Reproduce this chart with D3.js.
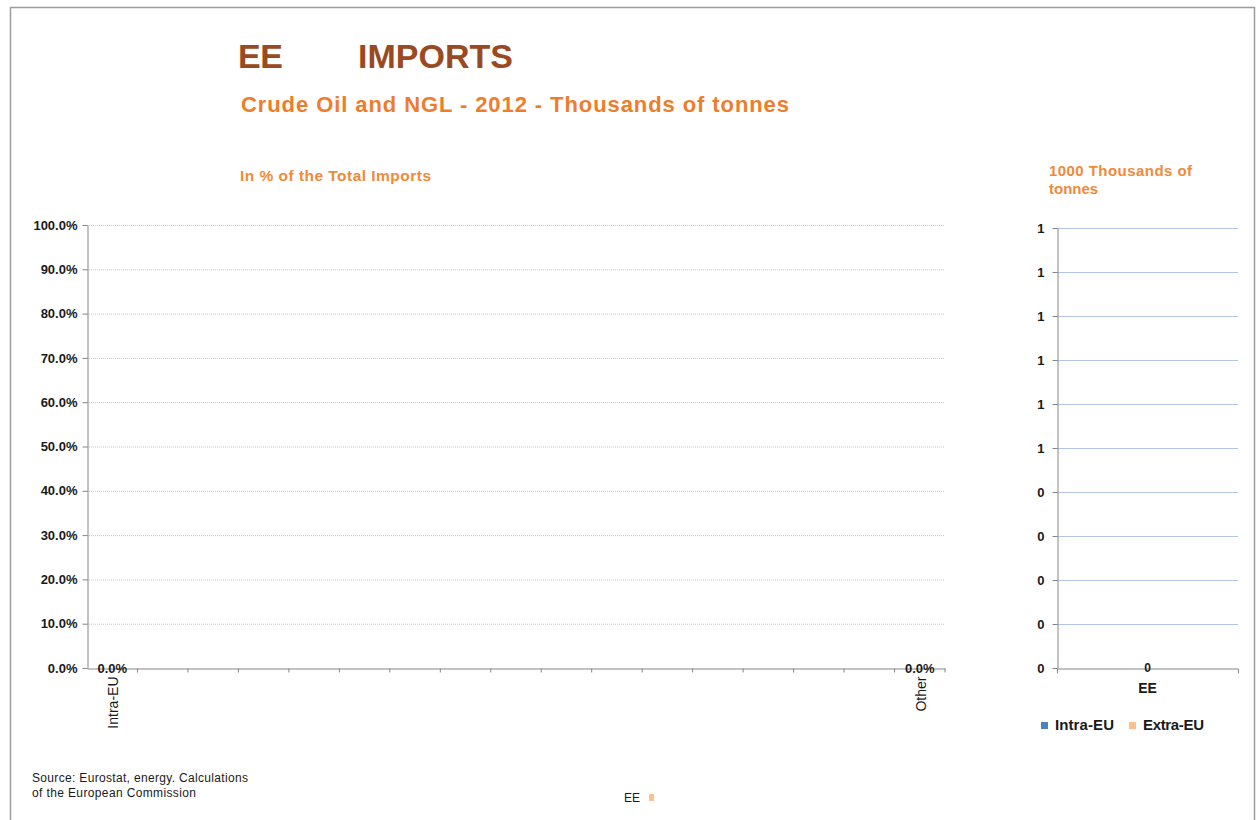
<!DOCTYPE html>
<html>
<head>
<meta charset="utf-8">
<script src="https://cdn.jsdelivr.net/npm/d3@7"></script>
<style>
  body { margin: 0; background: #fff; }
  svg { display: block; }
</style>
</head>
<body>
<svg id="chart" width="1258" height="820"></svg>
<script>

// categories on the share chart, only the first and last are labelled
const shareCats = ["Intra-EU", "c2", "c3", "c4", "c5", "c6", "c7", "c8", "c9", "c10", "c11", "c12", "c13", "c14", "c15", "c16", "Other"]
const shareLabels = ["Intra-EU", "", "", "", "", "", "", "", "", "", "", "", "", "", "", "", "Other"]
const shareValues = [0, null, null, null, null, null, null, null, null, null, null, null, null, null, null, null, 0]

const shareTicks = [0, 0.1, 0.2, 0.3, 0.4, 0.5, 0.6, 0.7, 0.8, 0.9, 1.0]

const volCats = ["EE"]
const intraEU = [0]
const extraEU = [0]
const volTicks = [0, 0.1, 0.2, 0.3, 0.4, 0.5, 0.6, 0.7, 0.8, 0.9, 1.0]

const svg = d3.select("#chart")

const brown = "#9a4a22"
const orange = "#ee7d2b"
const labelFont = "Liberation Sans, Arial, sans-serif"
const narrowFont = "Liberation Sans Narrow, Liberation Sans, Arial, sans-serif"

// outer frame
svg.append("rect")
.attr("x", 10.5)
.attr("y", 7.5)
.attr("width", 1244)
.attr("height", 830)
.attr("fill", "none")
.attr("stroke", "#9d9d9d")
.attr("stroke-width", 1.5)

// titles
svg.append("text")
.attr("x", 238)
.attr("y", 68)
.attr("font-family", labelFont)
.attr("font-weight", "bold")
.attr("font-size", 34)
.attr("fill", brown)
.attr("textLength", 45)
.text("EE")

svg.append("text")
.attr("x", 358)
.attr("y", 68)
.attr("font-family", labelFont)
.attr("font-weight", "bold")
.attr("font-size", 34)
.attr("fill", brown)
.attr("textLength", 155)
.text("IMPORTS")

svg.append("text")
.attr("x", 241)
.attr("y", 112)
.attr("font-family", labelFont)
.attr("font-weight", "bold")
.attr("font-size", 22)
.attr("fill", orange)
.attr("textLength", 548)
.text("Crude Oil and NGL - 2012 - Thousands of tonnes")

svg.append("text")
.attr("x", 240)
.attr("y", 181)
.attr("font-family", narrowFont)
.attr("font-weight", "bold")
.attr("font-size", 15.5)
.attr("fill", "#f08a3a")
.attr("textLength", 191)
.text("In % of the Total Imports")

// ---- share chart ----
const x = d3.scaleBand()
.domain(shareCats)
.range([87, 945])

const y = d3.scaleLinear()
.domain([0, 1])
.range([668, 225])

const left = svg.append("g")

left.selectAll(".grid")
.data(shareTicks.filter((d) => d > 0))
.join("line")
.attr("class", "grid")
.attr("x1", 87)
.attr("x2", 945)
.attr("y1", (d) => y(d) + 0.5)
.attr("y2", (d) => y(d) + 0.5)
.attr("stroke", "#b9c9e4")
.attr("stroke-dasharray", "1,1")

const yAxis = left.append("g")
.attr("transform", "translate(87.5,0)")
.call(d3.axisLeft(y).tickValues(shareTicks).tickFormat(d3.format(".1%")).tickSize(5).tickSizeOuter(0))

yAxis.select(".domain").attr("stroke", "#868686")
yAxis.selectAll(".tick line").attr("stroke", "#868686")
yAxis.selectAll(".tick text")
.attr("x", -10)
.attr("font-family", labelFont)
.attr("font-weight", "bold")
.attr("font-size", 13)
.attr("fill", "#1a1a1a")

const xAxis = left.append("g")
.attr("transform", "translate(0,668.5)")
.call(d3.axisBottom(x).tickSize(0).tickFormat((d, i) => shareLabels[i]).tickSizeOuter(0))

xAxis.select(".domain").attr("stroke", "#868686")

// category boundary ticks
xAxis.selectAll(".sep")
.data(shareCats.slice(1).concat(["end"]))
.join("line")
.attr("class", "sep")
.attr("x1", (d, i) => x(shareCats[0]) + x.step() * (i + 1))
.attr("x2", (d, i) => x(shareCats[0]) + x.step() * (i + 1))
.attr("y1", 0)
.attr("y2", 4)
.attr("stroke", "#868686")

xAxis.selectAll(".tick text")
.attr("transform", "rotate(-90)")
.attr("x", -8)
.attr("y", 1)
.attr("dy", "0.35em")
.attr("text-anchor", "end")
.attr("font-family", narrowFont)
.attr("font-size", 14)
.attr("fill", "#1a1a1a")

left.selectAll(".val")
.data(shareCats.map((c, i) => ({ c, v: shareValues[i] })).filter((d) => d.v !== null))
.join("text")
.attr("class", "val")
.attr("x", (d) => x(d.c) + x.bandwidth() / 2)
.attr("y", (d) => y(d.v) + 5)
.attr("text-anchor", "middle")
.attr("font-family", labelFont)
.attr("font-weight", "bold")
.attr("font-size", 13)
.attr("fill", "#1a1a1a")
.text((d) => d3.format(".1%")(d.v))

// ---- volume chart ----
svg.append("text")
.attr("font-family", narrowFont)
.attr("font-weight", "bold")
.attr("font-size", 15)
.attr("fill", "#f08a3a")
.selectAll("tspan")
.data(["1000 Thousands of", "tonnes"])
.join("tspan")
.attr("x", 1049)
.attr("y", (d, i) => 176 + i * 18)
.attr("textLength", (d, i) => i === 0 ? 143 : null)
.text((d) => d)

const x2 = d3.scaleBand()
.domain(volCats)
.range([1057, 1238])

const y2 = d3.scaleLinear()
.domain([0, 1])
.range([668, 228])

const right = svg.append("g")

right.selectAll(".grid2")
.data(volTicks.filter((d) => d > 0))
.join("line")
.attr("class", "grid2")
.attr("x1", 1057)
.attr("x2", 1238)
.attr("y1", (d) => y2(d) + 0.5)
.attr("y2", (d) => y2(d) + 0.5)
.attr("stroke", "#b4c6e7")
.attr("stroke-width", 1.2)

const yAxis2 = right.append("g")
.attr("transform", "translate(1057.5,0)")
.call(d3.axisLeft(y2).tickValues(volTicks).tickFormat((d) => String(Math.round(d + 1e-9))).tickSize(5).tickSizeOuter(0))

yAxis2.select(".domain").attr("stroke", "#868686")
yAxis2.selectAll(".tick line").attr("stroke", "#868686")
yAxis2.selectAll(".tick text")
.attr("x", -13)
.attr("font-family", labelFont)
.attr("font-weight", "bold")
.attr("font-size", 13)
.attr("fill", "#1a1a1a")

const xAxis2 = right.append("g")
.attr("transform", "translate(0,668.5)")
.call(d3.axisBottom(x2).tickSize(0).tickSizeOuter(5))

xAxis2.select(".domain").attr("stroke", "#868686")
xAxis2.selectAll(".tick text")
.attr("y", 15)
.attr("font-family", narrowFont)
.attr("font-weight", "bold")
.attr("font-size", 14)
.attr("fill", "#1a1a1a")

// stacked bars (zero height) and their total label
const stack = d3.stack().keys(["intra", "extra"])(volCats.map((c, i) => ({ c, intra: intraEU[i], extra: extraEU[i] })))
const volColors = ["#4f81bd", "#fac090"]

right.selectAll(".layer")
.data(stack)
.join("g")
.attr("fill", (d, i) => volColors[i])
.selectAll("rect")
.data((d) => d)
.join("rect")
.attr("x", (d) => x2(d.data.c) + x2.bandwidth() * 0.3)
.attr("width", x2.bandwidth() * 0.4)
.attr("y", (d) => y2(d[1]))
.attr("height", (d) => y2(d[0]) - y2(d[1]))

right.selectAll(".tot")
.data(volCats)
.join("text")
.attr("class", "tot")
.attr("x", (d) => x2(d) + x2.bandwidth() / 2)
.attr("y", (d, i) => y2(intraEU[i] + extraEU[i]) + 4)
.attr("text-anchor", "middle")
.attr("font-family", labelFont)
.attr("font-weight", "bold")
.attr("font-size", 12)
.attr("fill", "#1a1a1a")
.text((d, i) => d3.format(".0f")(intraEU[i] + extraEU[i]))

// legend
const legendItems = [["Intra-EU", volColors[0], 59], ["Extra-EU", volColors[1], 61]]
const legend = svg.append("g")
let lx = 1041
legendItems.forEach(([name, col, w], i) => {
  legend.append("rect")
  .attr("x", lx)
  .attr("y", 722)
  .attr("width", 7)
  .attr("height", 7)
  .attr("fill", col)
  legend.append("text")
  .attr("x", lx + 14)
  .attr("y", 730)
  .attr("font-family", narrowFont)
  .attr("font-weight", "bold")
  .attr("font-size", 15)
  .attr("fill", "#1a1a1a")
  .attr("textLength", w)
  .text(name)
  lx += 88
})

// source note
svg.append("text")
.attr("font-family", narrowFont)
.attr("font-size", 12)
.attr("fill", "#1a1a1a")
.selectAll("tspan")
.data(["Source: Eurostat, energy. Calculations", "of the European Commission"])
.join("tspan")
.attr("x", 32)
.attr("y", (d, i) => 782 + i * 15)
.attr("textLength", (d, i) => i === 0 ? 216 : 164)
.text((d) => d)

// small bottom key
svg.append("text")
.attr("x", 624)
.attr("y", 802)
.attr("font-family", narrowFont)
.attr("font-size", 12)
.attr("fill", "#1a1a1a")
.text("EE")
svg.append("rect")
.attr("x", 649)
.attr("y", 794)
.attr("width", 5)
.attr("height", 7)
.attr("fill", volColors[1])

</script>
</body>
</html>
